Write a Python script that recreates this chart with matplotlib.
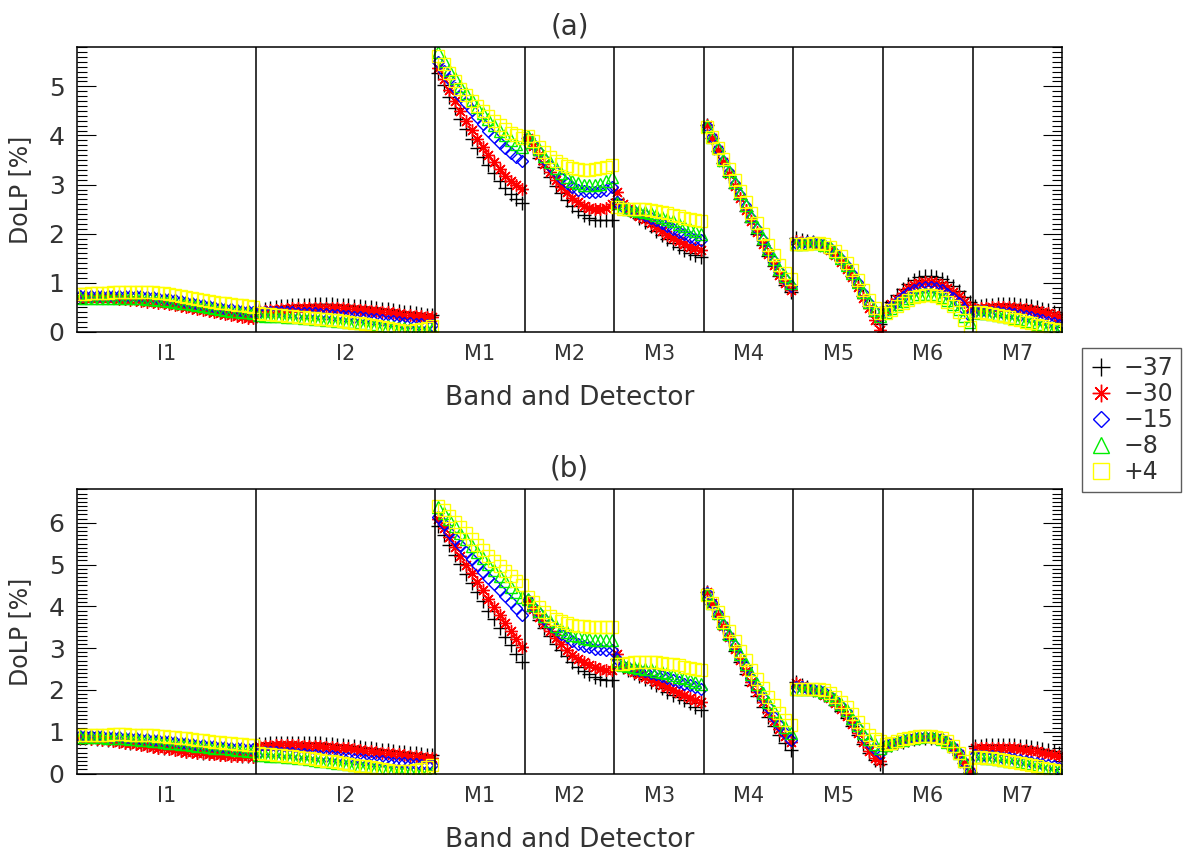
import numpy as np
import matplotlib
matplotlib.use("Agg")
import matplotlib.pyplot as plt
from matplotlib.ticker import MultipleLocator

plt.rcParams['font.family'] = ['DejaVu Sans']

bands = ['I1', 'I2', 'M1', 'M2', 'M3', 'M4', 'M5', 'M6', 'M7']
band_sizes = [32, 32, 16, 16, 16, 16, 16, 16, 16]
angles = ['\u221237', '\u221230', '\u221215', '\u22128', '+4']

# panel (a): DoLP [%] per detector, bands I1, I2, M1..M7 in order
a_m37 = [0.72, 0.72, 0.72, 0.72, 0.72, 0.72, 0.72, 0.72, 0.71, 0.71, 0.70, 0.69, 0.68, 0.67, 0.66, 0.64,
         0.62, 0.60, 0.58, 0.56, 0.54, 0.52, 0.50, 0.48, 0.46, 0.44, 0.42, 0.41, 0.39, 0.38, 0.37, 0.36,
         0.45, 0.47, 0.49, 0.51, 0.52, 0.53, 0.54, 0.55, 0.55, 0.55, 0.56, 0.56, 0.56, 0.56, 0.55, 0.55,
         0.54, 0.53, 0.52, 0.51, 0.50, 0.49, 0.47, 0.46, 0.44, 0.43, 0.41, 0.40, 0.38, 0.37, 0.35, 0.34,
         5.28, 5.03, 4.79, 4.56, 4.34, 4.13, 3.93, 3.74, 3.56, 3.39, 3.23, 3.08, 2.94, 2.81, 2.70, 2.62,
         3.95, 3.75, 3.55, 3.35, 3.15, 2.98, 2.82, 2.68, 2.56, 2.46, 2.38, 2.32, 2.28, 2.27, 2.27, 2.28,
         2.70, 2.60, 2.50, 2.42, 2.33, 2.24, 2.15, 2.06, 1.97, 1.89, 1.81, 1.74, 1.67, 1.61, 1.56, 1.52,
         4.22, 3.94, 3.68, 3.43, 3.18, 2.94, 2.70, 2.46, 2.23, 2.00, 1.77, 1.55, 1.34, 1.14, 0.96, 0.82,
         1.92, 1.88, 1.85, 1.83, 1.80, 1.75, 1.68, 1.58, 1.46, 1.31, 1.14, 0.95, 0.74, 0.52, 0.32, 0.16,
         0.51, 0.62, 0.75, 0.88, 0.98, 1.06, 1.11, 1.13, 1.13, 1.11, 1.07, 1.01, 0.93, 0.83, 0.72, 0.61,
         0.52, 0.53, 0.54, 0.55, 0.56, 0.56, 0.56, 0.56, 0.55, 0.54, 0.52, 0.50, 0.47, 0.44, 0.40, 0.36]
a_m30 = [0.70, 0.70, 0.70, 0.70, 0.70, 0.69, 0.69, 0.68, 0.67, 0.66, 0.65, 0.64, 0.62, 0.61, 0.59, 0.58,
         0.56, 0.54, 0.52, 0.50, 0.48, 0.46, 0.44, 0.42, 0.40, 0.38, 0.36, 0.34, 0.33, 0.31, 0.29, 0.28,
         0.42, 0.43, 0.44, 0.45, 0.46, 0.47, 0.48, 0.48, 0.49, 0.49, 0.49, 0.49, 0.49, 0.49, 0.48, 0.48,
         0.47, 0.46, 0.45, 0.44, 0.43, 0.42, 0.41, 0.40, 0.38, 0.37, 0.35, 0.34, 0.33, 0.32, 0.31, 0.30,
         5.38, 5.15, 4.93, 4.71, 4.50, 4.30, 4.11, 3.93, 3.76, 3.60, 3.45, 3.31, 3.18, 3.07, 2.99, 2.92,
         3.95, 3.78, 3.60, 3.42, 3.25, 3.10, 2.96, 2.84, 2.73, 2.64, 2.57, 2.52, 2.50, 2.50, 2.53, 2.60,
         2.85, 2.60, 2.50, 2.43, 2.36, 2.29, 2.21, 2.13, 2.05, 1.98, 1.91, 1.85, 1.79, 1.74, 1.70, 1.66,
         4.22, 3.95, 3.70, 3.45, 3.21, 2.97, 2.73, 2.49, 2.26, 2.03, 1.80, 1.58, 1.37, 1.17, 0.99, 0.85,
         1.86, 1.84, 1.83, 1.82, 1.79, 1.74, 1.66, 1.56, 1.43, 1.28, 1.11, 0.91, 0.70, 0.48, 0.25, 0.05,
         0.45, 0.56, 0.68, 0.80, 0.89, 0.96, 1.00, 1.02, 1.02, 1.00, 0.96, 0.90, 0.82, 0.73, 0.62, 0.50,
         0.47, 0.48, 0.49, 0.50, 0.50, 0.50, 0.50, 0.49, 0.48, 0.47, 0.45, 0.43, 0.41, 0.38, 0.35, 0.31]
a_m15 = [0.74, 0.74, 0.74, 0.74, 0.74, 0.74, 0.74, 0.74, 0.74, 0.74, 0.73, 0.73, 0.72, 0.71, 0.70, 0.68,
         0.67, 0.65, 0.63, 0.61, 0.59, 0.57, 0.55, 0.53, 0.51, 0.49, 0.47, 0.46, 0.44, 0.43, 0.42, 0.41,
         0.40, 0.40, 0.40, 0.40, 0.40, 0.40, 0.40, 0.39, 0.39, 0.38, 0.38, 0.37, 0.36, 0.35, 0.34, 0.33,
         0.32, 0.31, 0.30, 0.29, 0.27, 0.26, 0.25, 0.23, 0.22, 0.21, 0.19, 0.18, 0.17, 0.16, 0.15, 0.14,
         5.50, 5.32, 5.14, 4.97, 4.81, 4.66, 4.51, 4.37, 4.23, 4.10, 3.97, 3.85, 3.74, 3.64, 3.56, 3.49,
         3.95, 3.82, 3.67, 3.52, 3.38, 3.25, 3.14, 3.04, 2.96, 2.90, 2.86, 2.84, 2.84, 2.86, 2.90, 2.95,
         2.65, 2.55, 2.49, 2.46, 2.42, 2.38, 2.33, 2.28, 2.22, 2.16, 2.10, 2.04, 1.99, 1.94, 1.90, 1.87,
         4.20, 3.96, 3.72, 3.48, 3.25, 3.02, 2.79, 2.56, 2.33, 2.10, 1.87, 1.65, 1.44, 1.24, 1.07, 0.94,
         1.82, 1.82, 1.83, 1.83, 1.81, 1.77, 1.70, 1.61, 1.49, 1.35, 1.19, 1.00, 0.80, 0.59, 0.42, 0.30,
         0.43, 0.52, 0.62, 0.72, 0.80, 0.86, 0.90, 0.92, 0.92, 0.90, 0.85, 0.78, 0.69, 0.58, 0.46, 0.33,
         0.42, 0.42, 0.42, 0.41, 0.40, 0.39, 0.38, 0.36, 0.34, 0.32, 0.30, 0.27, 0.24, 0.21, 0.18, 0.15]
a_m8 = [0.69, 0.69, 0.70, 0.70, 0.70, 0.70, 0.70, 0.70, 0.70, 0.70, 0.69, 0.69, 0.68, 0.67, 0.66, 0.65,
        0.63, 0.62, 0.60, 0.58, 0.56, 0.54, 0.52, 0.50, 0.48, 0.46, 0.45, 0.43, 0.42, 0.41, 0.40, 0.39,
        0.34, 0.33, 0.33, 0.32, 0.32, 0.31, 0.30, 0.30, 0.29, 0.28, 0.27, 0.26, 0.25, 0.24, 0.23, 0.22,
        0.21, 0.20, 0.19, 0.17, 0.16, 0.15, 0.13, 0.12, 0.10, 0.09, 0.08, 0.06, 0.05, 0.05, 0.05, 0.06,
        5.70, 5.52, 5.34, 5.17, 5.01, 4.86, 4.72, 4.58, 4.45, 4.33, 4.21, 4.10, 4.00, 3.91, 3.83, 3.76,
        3.98, 3.86, 3.72, 3.58, 3.45, 3.33, 3.23, 3.15, 3.08, 3.03, 3.00, 2.99, 3.00, 3.02, 3.07, 3.15,
        2.62, 2.54, 2.50, 2.49, 2.47, 2.45, 2.42, 2.38, 2.34, 2.30, 2.25, 2.20, 2.15, 2.10, 2.05, 2.00,
        4.20, 3.97, 3.74, 3.51, 3.28, 3.05, 2.82, 2.59, 2.36, 2.13, 1.91, 1.69, 1.48, 1.29, 1.13, 1.00,
        1.80, 1.80, 1.81, 1.82, 1.81, 1.78, 1.72, 1.63, 1.51, 1.37, 1.21, 1.02, 0.82, 0.62, 0.45, 0.33,
        0.40, 0.48, 0.56, 0.63, 0.69, 0.74, 0.77, 0.78, 0.78, 0.76, 0.72, 0.66, 0.57, 0.46, 0.33, 0.20,
        0.40, 0.39, 0.38, 0.37, 0.35, 0.33, 0.31, 0.29, 0.26, 0.23, 0.20, 0.17, 0.14, 0.11, 0.08, 0.05]
a_p4 = [0.77, 0.78, 0.79, 0.79, 0.80, 0.80, 0.81, 0.81, 0.81, 0.82, 0.82, 0.82, 0.82, 0.81, 0.80, 0.79,
        0.78, 0.76, 0.74, 0.72, 0.70, 0.68, 0.66, 0.64, 0.62, 0.60, 0.58, 0.57, 0.55, 0.54, 0.52, 0.51,
        0.38, 0.37, 0.36, 0.35, 0.34, 0.33, 0.32, 0.31, 0.30, 0.29, 0.28, 0.27, 0.26, 0.25, 0.24, 0.22,
        0.21, 0.19, 0.18, 0.16, 0.14, 0.12, 0.10, 0.08, 0.06, 0.04, 0.03, 0.03, 0.04, 0.06, 0.09, 0.13,
        5.62, 5.45, 5.27, 5.10, 4.95, 4.82, 4.70, 4.59, 4.49, 4.39, 4.30, 4.22, 4.14, 4.06, 4.00, 3.95,
        3.98, 3.88, 3.77, 3.66, 3.56, 3.48, 3.42, 3.37, 3.33, 3.31, 3.30, 3.30, 3.31, 3.33, 3.36, 3.40,
        2.55, 2.50, 2.50, 2.51, 2.51, 2.50, 2.49, 2.47, 2.45, 2.42, 2.39, 2.36, 2.33, 2.30, 2.27, 2.25,
        4.18, 3.97, 3.75, 3.53, 3.31, 3.09, 2.87, 2.65, 2.43, 2.21, 1.99, 1.77, 1.56, 1.37, 1.21, 1.08,
        1.79, 1.79, 1.80, 1.82, 1.82, 1.79, 1.73, 1.65, 1.54, 1.41, 1.26, 1.06, 0.85, 0.65, 0.49, 0.38,
        0.38, 0.45, 0.53, 0.60, 0.66, 0.71, 0.74, 0.75, 0.75, 0.73, 0.69, 0.62, 0.52, 0.40, 0.25, 0.10,
        0.41, 0.40, 0.38, 0.36, 0.34, 0.32, 0.30, 0.27, 0.24, 0.21, 0.18, 0.15, 0.12, 0.09, 0.06, 0.04]

# panel (b)
b_m37 = [0.86, 0.85, 0.84, 0.83, 0.82, 0.81, 0.79, 0.78, 0.76, 0.74, 0.72, 0.70, 0.68, 0.66, 0.64, 0.62,
         0.60, 0.58, 0.56, 0.54, 0.53, 0.51, 0.50, 0.49, 0.48, 0.47, 0.46, 0.45, 0.44, 0.43, 0.43, 0.42,
         0.70, 0.71, 0.72, 0.72, 0.73, 0.73, 0.73, 0.73, 0.73, 0.73, 0.72, 0.72, 0.71, 0.70, 0.69, 0.68,
         0.67, 0.65, 0.64, 0.62, 0.61, 0.59, 0.57, 0.56, 0.54, 0.52, 0.51, 0.49, 0.48, 0.46, 0.45, 0.44,
         5.93, 5.70, 5.47, 5.24, 5.01, 4.78, 4.56, 4.34, 4.12, 3.90, 3.69, 3.48, 3.27, 3.07, 2.87, 2.67,
         4.10, 3.89, 3.68, 3.48, 3.29, 3.11, 2.95, 2.80, 2.67, 2.56, 2.46, 2.38, 2.31, 2.26, 2.24, 2.23,
         2.75, 2.55, 2.47, 2.40, 2.33, 2.26, 2.19, 2.11, 2.04, 1.96, 1.89, 1.82, 1.75, 1.68, 1.60, 1.52,
         4.34, 4.06, 3.78, 3.50, 3.22, 2.94, 2.66, 2.39, 2.12, 1.86, 1.60, 1.36, 1.13, 0.92, 0.73, 0.56,
         2.20, 2.12, 2.06, 2.01, 1.95, 1.88, 1.78, 1.65, 1.50, 1.33, 1.14, 0.93, 0.71, 0.50, 0.32, 0.22,
         0.64, 0.68, 0.72, 0.76, 0.80, 0.83, 0.85, 0.86, 0.86, 0.84, 0.80, 0.72, 0.60, 0.44, 0.24, 0.03,
         0.66, 0.67, 0.68, 0.69, 0.69, 0.69, 0.69, 0.68, 0.67, 0.65, 0.63, 0.61, 0.59, 0.56, 0.53, 0.50]
b_m30 = [0.85, 0.84, 0.83, 0.82, 0.81, 0.79, 0.78, 0.76, 0.74, 0.72, 0.70, 0.68, 0.66, 0.64, 0.62, 0.60,
         0.58, 0.56, 0.54, 0.52, 0.51, 0.49, 0.48, 0.47, 0.46, 0.45, 0.44, 0.43, 0.42, 0.41, 0.41, 0.40,
         0.66, 0.67, 0.67, 0.68, 0.68, 0.68, 0.68, 0.68, 0.67, 0.67, 0.66, 0.65, 0.64, 0.63, 0.62, 0.61,
         0.60, 0.58, 0.57, 0.55, 0.54, 0.52, 0.50, 0.49, 0.47, 0.46, 0.44, 0.43, 0.41, 0.40, 0.38, 0.37,
         6.09, 5.87, 5.65, 5.43, 5.21, 5.00, 4.79, 4.58, 4.38, 4.18, 3.98, 3.79, 3.60, 3.41, 3.22, 3.03,
         4.12, 3.93, 3.75, 3.57, 3.40, 3.24, 3.09, 2.96, 2.84, 2.74, 2.66, 2.59, 2.54, 2.50, 2.48, 2.47,
         2.85, 2.58, 2.50, 2.44, 2.38, 2.32, 2.25, 2.19, 2.12, 2.06, 1.99, 1.93, 1.87, 1.81, 1.76, 1.71,
         4.34, 4.07, 3.80, 3.53, 3.26, 2.99, 2.72, 2.46, 2.20, 1.95, 1.71, 1.48, 1.26, 1.06, 0.89, 0.76,
         2.17, 2.10, 2.05, 2.01, 1.96, 1.89, 1.80, 1.68, 1.54, 1.37, 1.18, 0.97, 0.76, 0.55, 0.38, 0.30,
         0.66, 0.70, 0.74, 0.78, 0.81, 0.84, 0.86, 0.87, 0.87, 0.85, 0.81, 0.74, 0.62, 0.46, 0.26, 0.04,
         0.60, 0.61, 0.62, 0.62, 0.62, 0.62, 0.61, 0.60, 0.59, 0.57, 0.55, 0.53, 0.50, 0.47, 0.44, 0.41]
b_m15 = [0.90, 0.90, 0.90, 0.89, 0.89, 0.88, 0.88, 0.87, 0.86, 0.85, 0.84, 0.83, 0.82, 0.81, 0.79, 0.78,
         0.77, 0.75, 0.74, 0.72, 0.71, 0.69, 0.68, 0.67, 0.65, 0.64, 0.63, 0.62, 0.61, 0.60, 0.59, 0.58,
         0.52, 0.52, 0.51, 0.51, 0.50, 0.49, 0.48, 0.47, 0.46, 0.45, 0.44, 0.43, 0.42, 0.41, 0.39, 0.38,
         0.37, 0.35, 0.34, 0.33, 0.31, 0.30, 0.29, 0.27, 0.26, 0.25, 0.24, 0.23, 0.22, 0.21, 0.20, 0.20,
         6.13, 5.96, 5.79, 5.62, 5.46, 5.30, 5.14, 4.98, 4.83, 4.68, 4.53, 4.38, 4.24, 4.10, 3.96, 3.80,
         4.15, 3.99, 3.84, 3.70, 3.57, 3.45, 3.35, 3.26, 3.18, 3.11, 3.06, 3.02, 2.99, 2.97, 2.96, 2.95,
         2.75, 2.58, 2.54, 2.51, 2.48, 2.45, 2.41, 2.37, 2.33, 2.29, 2.24, 2.20, 2.15, 2.11, 2.07, 2.03,
         4.32, 4.08, 3.82, 3.56, 3.30, 3.04, 2.79, 2.54, 2.29, 2.05, 1.81, 1.58, 1.36, 1.15, 0.96, 0.80,
         2.08, 2.06, 2.04, 2.02, 1.99, 1.94, 1.86, 1.75, 1.62, 1.46, 1.28, 1.09, 0.90, 0.72, 0.58, 0.50,
         0.68, 0.72, 0.76, 0.80, 0.83, 0.85, 0.87, 0.88, 0.88, 0.86, 0.82, 0.75, 0.64, 0.48, 0.28, 0.05,
         0.44, 0.43, 0.42, 0.41, 0.40, 0.38, 0.36, 0.34, 0.32, 0.30, 0.28, 0.25, 0.23, 0.20, 0.17, 0.14]
b_m8 = [0.88, 0.88, 0.88, 0.87, 0.87, 0.86, 0.86, 0.85, 0.84, 0.83, 0.82, 0.81, 0.80, 0.78, 0.77, 0.76,
        0.74, 0.73, 0.71, 0.70, 0.68, 0.67, 0.65, 0.64, 0.62, 0.61, 0.60, 0.58, 0.57, 0.56, 0.55, 0.54,
        0.45, 0.44, 0.43, 0.42, 0.41, 0.40, 0.39, 0.37, 0.36, 0.34, 0.33, 0.31, 0.30, 0.28, 0.26, 0.25,
        0.23, 0.21, 0.19, 0.18, 0.16, 0.14, 0.12, 0.10, 0.08, 0.06, 0.05, 0.03, 0.02, 0.01, 0.01, 0.02,
        6.37, 6.23, 6.08, 5.92, 5.76, 5.60, 5.45, 5.30, 5.15, 5.01, 4.87, 4.73, 4.60, 4.47, 4.34, 4.22,
        4.18, 4.03, 3.89, 3.76, 3.64, 3.54, 3.45, 3.38, 3.32, 3.28, 3.25, 3.22, 3.20, 3.19, 3.19, 3.19,
        2.70, 2.60, 2.57, 2.55, 2.53, 2.51, 2.49, 2.46, 2.43, 2.40, 2.36, 2.32, 2.28, 2.24, 2.20, 2.15,
        4.30, 4.08, 3.84, 3.59, 3.34, 3.10, 2.86, 2.62, 2.38, 2.15, 1.92, 1.70, 1.49, 1.29, 1.11, 0.96,
        2.03, 2.03, 2.03, 2.02, 2.00, 1.96, 1.89, 1.79, 1.66, 1.51, 1.34, 1.16, 0.98, 0.82, 0.70, 0.62,
        0.69, 0.73, 0.77, 0.81, 0.84, 0.86, 0.88, 0.89, 0.89, 0.87, 0.83, 0.76, 0.65, 0.49, 0.29, 0.06,
        0.40, 0.39, 0.38, 0.37, 0.35, 0.33, 0.31, 0.29, 0.27, 0.24, 0.22, 0.19, 0.16, 0.13, 0.10, 0.07]
b_p4 = [0.92, 0.92, 0.93, 0.93, 0.93, 0.93, 0.94, 0.94, 0.94, 0.93, 0.93, 0.92, 0.92, 0.91, 0.90, 0.89,
        0.88, 0.87, 0.85, 0.84, 0.82, 0.81, 0.79, 0.78, 0.76, 0.75, 0.73, 0.72, 0.71, 0.70, 0.69, 0.68,
        0.48, 0.47, 0.46, 0.45, 0.44, 0.43, 0.41, 0.40, 0.38, 0.37, 0.35, 0.33, 0.31, 0.29, 0.27, 0.25,
        0.23, 0.21, 0.19, 0.17, 0.15, 0.12, 0.10, 0.08, 0.06, 0.05, 0.05, 0.06, 0.08, 0.11, 0.15, 0.20,
        6.41, 6.30, 6.17, 6.03, 5.89, 5.75, 5.61, 5.47, 5.34, 5.21, 5.08, 4.96, 4.84, 4.72, 4.61, 4.50,
        4.22, 4.10, 3.98, 3.87, 3.78, 3.70, 3.64, 3.59, 3.56, 3.54, 3.52, 3.51, 3.50, 3.50, 3.50, 3.50,
        2.62, 2.62, 2.64, 2.66, 2.67, 2.67, 2.67, 2.66, 2.65, 2.63, 2.61, 2.59, 2.56, 2.53, 2.50, 2.47,
        4.28, 4.08, 3.86, 3.63, 3.40, 3.17, 2.94, 2.71, 2.48, 2.26, 2.04, 1.83, 1.63, 1.44, 1.28, 1.16,
        2.02, 2.03, 2.03, 2.03, 2.02, 2.00, 1.93, 1.84, 1.72, 1.58, 1.42, 1.24, 1.07, 0.92, 0.82, 0.78,
        0.70, 0.74, 0.78, 0.82, 0.85, 0.87, 0.89, 0.90, 0.90, 0.88, 0.84, 0.77, 0.66, 0.50, 0.30, 0.08,
        0.40, 0.39, 0.38, 0.36, 0.34, 0.32, 0.30, 0.28, 0.25, 0.23, 0.20, 0.17, 0.14, 0.11, 0.08, 0.05]

# marker style per scan angle: (marker, colour, markersize)
styles = [('+', 'black', 9.5), ((8, 2, 0), 'red', 9.0), ('D', 'blue', 5.8),
          ('^', '#00ee00', 8.3), ('s', '#ffff00', 8.5)]

txt = '#333333'
det = np.arange(sum(band_sizes))
edges = np.cumsum(band_sizes)
centers = edges - np.array(band_sizes) / 2.0 - 0.5

fig = plt.figure(figsize=(11.96, 8.63), dpi=100)
ax_a = fig.add_axes([0.0644, 0.6153, 0.8236, 0.3302])
ax_b = fig.add_axes([0.0644, 0.1037, 0.8236, 0.3293])

panels = [(ax_a, [a_m37, a_m30, a_m15, a_m8, a_p4], 5.8, '(a)'),
          (ax_b, [b_m37, b_m30, b_m15, b_m8, b_p4], 6.8, '(b)')]

handles = []
for ax, series, ytop, tag in panels:
    for vals, (mk, col, ms), lab in zip(series, styles, angles):
        h, = ax.plot(det, vals, linestyle='none', marker=mk, markersize=ms,
                     markerfacecolor='none', markeredgecolor=col, markeredgewidth=1.0,
                     color=col, label=lab)
        if ax is ax_a:
            handles.append(h)
    for e in edges[:-1]:
        ax.axvline(e - 0.5, color='black', linewidth=1.1)
    ax.set_xlim(-0.5, det[-1] + 0.5)
    ax.set_ylim(0, ytop)
    ax.set_xticks(centers)
    ax.set_xticklabels(bands, fontsize=15, color=txt)
    ax.tick_params(axis='x', length=0, pad=9)
    ax.yaxis.set_major_locator(MultipleLocator(1))
    ax.yaxis.set_minor_locator(MultipleLocator(0.1))
    ax.tick_params(axis='y', which='both', direction='in', left=True, right=True,
                   labelsize=18, labelcolor=txt, pad=9, width=0.8)
    ax.tick_params(axis='y', which='major', length=14)
    ax.tick_params(axis='y', which='minor', length=7)
    for sp in ax.spines.values():
        sp.set_linewidth(1.1)
    ax.set_xlabel('Band and Detector', fontsize=19, color=txt, labelpad=15)
    ax.set_ylabel('DoLP [%]', fontsize=17, color=txt)
    ax.yaxis.set_label_coords(-0.046, 0.5)
    ax.set_title(tag, fontsize=20, color=txt, pad=9)

leg = fig.legend(handles, angles, loc='upper left', bbox_to_anchor=(1082 / 1196, 1 - 348 / 863),
                 fontsize=17, markerscale=1.4, frameon=True, fancybox=False, edgecolor='#333333',
                 handlelength=0.9, handletextpad=0.5, labelspacing=0.08, borderpad=0.35,
                 borderaxespad=0)
leg.get_frame().set_linewidth(1.0)
for t in leg.get_texts():
    t.set_color(txt)

fig.savefig('out.png', dpi=100)
